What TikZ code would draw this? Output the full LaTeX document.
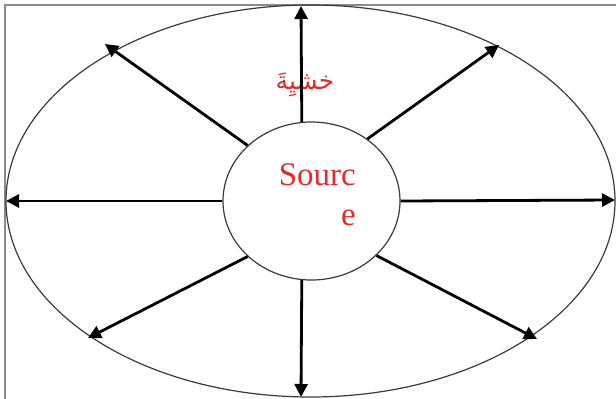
\documentclass[tikz,border=0pt]{standalone}
\usepackage{fontspec}
\setmainfont{Liberation Serif}
\newfontfamily\arabicfont[Script=Arabic]{DejaVu Sans}
\TeXXeTstate=1
\usetikzlibrary{arrows.meta,shapes.geometric}
\definecolor{vermelho}{HTML}{E22A2A}
\definecolor{contorno}{HTML}{3A3A3A}
\definecolor{moldura}{HTML}{8A8A8A}

\begin{document}
\begin{tikzpicture}[x=1pt, y=-1pt,
  campo/.style={draw=contorno, ellipse, line width=1.2pt, inner sep=0pt},
  raio/.style={-{Triangle[length=13pt,width=13pt]}, line width=2.8pt},
  rotulo/.style={text=vermelho, inner sep=0pt}
]
\useasboundingbox (0,0) rectangle (616,399);
\draw[moldura, line width=1.2pt] (5,399) -- (5,5) -- (616,5);
\node[campo, minimum width=609pt, minimum height=392pt] (outer) at (310.5,201) {};
\node[campo, minimum width=177pt, minimum height=158pt] (src) at (311.5,201) {};
\node[rotulo, align=right, font=\fontsize{33}{40}\selectfont, anchor=north east] (nome) at (356,163) {Sourc\\e};
\node[rotulo, font=\fontsize{25}{28}\selectfont\arabicfont] (khashya) at (305,85) {\beginR خشيِةَ\endR};
% pontas das setas sobre a elipse
\coordinate (pN) at (301,6);
\coordinate (pS) at (301,397);
\coordinate (pO) at (6,201);
\coordinate (pL) at (615,200);
\coordinate (pNO) at (105,44);
\coordinate (pNE) at (499,45);
\coordinate (pSO) at (88,338);
\coordinate (pSE) at (537,339);
\draw[raio] (src.97) -- (pN);
\draw[raio] (src.263) -- (pS);
\draw[raio] (src.180) -- (pO);
\draw[raio] (src.0) -- (pL);
\draw[raio] (src.139) -- (pNO);
\draw[raio] (src.48.6) -- (pNE);
\draw[raio] (src.221) -- (pSO);
\draw[raio] (src.320) -- (pSE);
\end{tikzpicture}
\end{document}
